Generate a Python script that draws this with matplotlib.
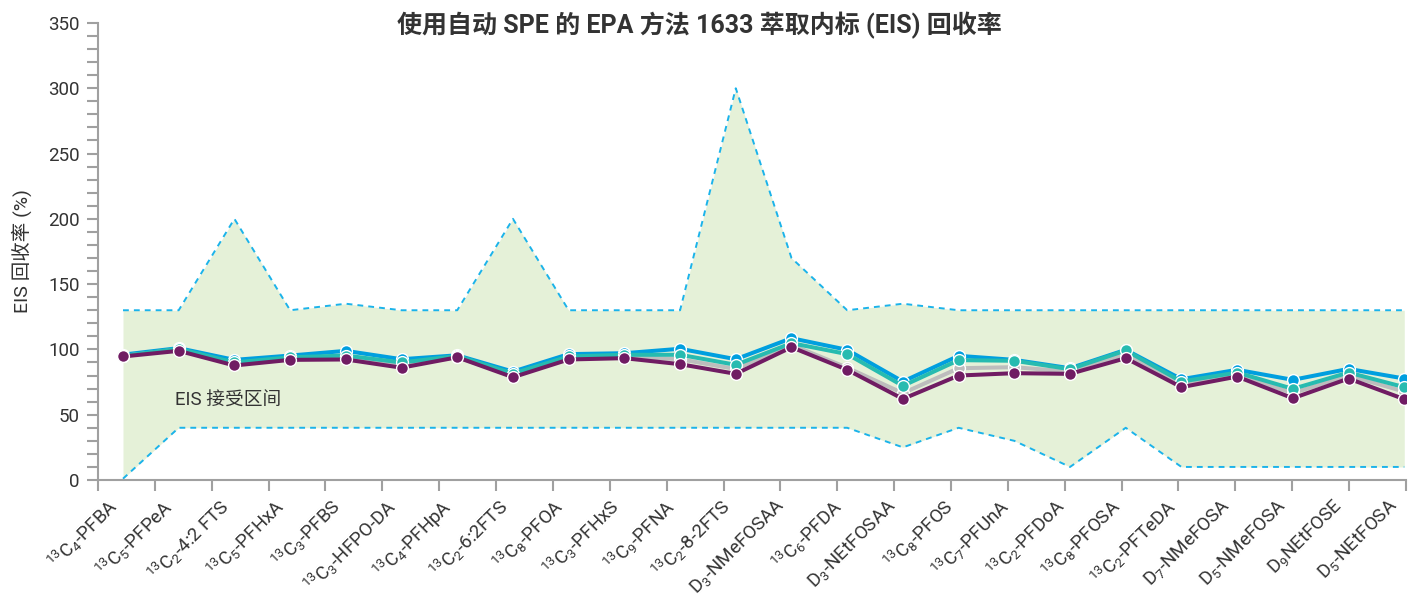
"""EPA 1633 EIS 回收率折线图 (matplotlib)."""
import numpy as np
import matplotlib
matplotlib.use("Agg")
import matplotlib.pyplot as plt
import matplotlib.transforms as mtransforms

plt.rcParams["font.family"] = ["Roboto", "Noto Sans CJK SC", "DejaVu Sans"]
plt.rcParams["mathtext.fontset"] = "custom"
plt.rcParams["mathtext.rm"] = "Roboto"
plt.rcParams["mathtext.it"] = "Roboto:italic"
plt.rcParams["mathtext.bf"] = "Roboto:bold"
plt.rcParams["axes.unicode_minus"] = False

# 化合物 (x 轴标签)
labels = [
    r"$\mathregular{^{13}C_4}$-PFBA", r"$\mathregular{^{13}C_5}$-PFPeA",
    r"$\mathregular{^{13}C_2}$-4:2 FTS", r"$\mathregular{^{13}C_5}$-PFHxA",
    r"$\mathregular{^{13}C_3}$-PFBS", r"$\mathregular{^{13}C_3}$-HFPO-DA",
    r"$\mathregular{^{13}C_4}$-PFHpA", r"$\mathregular{^{13}C_2}$-6:2FTS",
    r"$\mathregular{^{13}C_8}$-PFOA", r"$\mathregular{^{13}C_3}$-PFHxS",
    r"$\mathregular{^{13}C_9}$-PFNA", r"$\mathregular{^{13}C_2}$-8-2FTS",
    r"$\mathregular{D_3}$-NMeFOSAA", r"$\mathregular{^{13}C_6}$-PFDA",
    r"$\mathregular{D_3}$-NEtFOSAA", r"$\mathregular{^{13}C_8}$-PFOS",
    r"$\mathregular{^{13}C_7}$-PFUnA", r"$\mathregular{^{13}C_2}$-PFDoA",
    r"$\mathregular{^{13}C_8}$-PFOSA", r"$\mathregular{^{13}C_2}$-PFTeDA",
    r"$\mathregular{D_7}$-NMeFOSA", r"$\mathregular{D_5}$-NMeFOSA",
    r"$\mathregular{D_9}$NEtFOSE", r"$\mathregular{D_5}$-NEtFOSA",
]

# 接受区间上下限
upper = [130, 130, 200, 130, 135, 130, 130, 200, 130, 130, 130, 300,
         170, 130, 135, 130, 130, 130, 130, 130, 130, 130, 130, 130]
lower = [1, 40, 40, 40, 40, 40, 40, 40, 40, 40, 40, 40,
         40, 40, 25, 40, 30, 10, 40, 10, 10, 10, 10, 10]

# 四组样品回收率
s_blue = [96, 101, 92, 95.3, 98.9, 92.5, 95.5, 83, 96.4, 97.1, 100.5, 92.5,
          108.6, 99.7, 75.4, 95.1, 92, 85.6, 99.7, 77.2, 84.4, 76.7, 85.1, 77.7]
s_gray = [95, 100, 89, 93, 94, 88, 94, 80, 93.5, 94.5, 92.5, 85,
          103.5, 86, 66.5, 85.6, 86.4, 83, 96.4, 73.6, 80.5, 66.5, 80, 67.7]
s_teal = [95, 100.5, 90, 94, 95.3, 90, 95, 81.5, 94.6, 95.9, 95.9, 88.2,
          104.8, 96.4, 72.1, 91.8, 91.3, 84.9, 99.2, 75.4, 82.3, 69.8, 82.3, 71.1]
s_purple = [94.6, 98.9, 87.7, 92, 92.3, 86, 94, 78.7, 92.3, 93.3, 88.7, 81.3,
            101.7, 84.4, 62.1, 80, 81.8, 81.3, 93.3, 71.1, 79.2, 62.6, 77.7, 61.9]

COLOR_BLUE = "#009FDF"
COLOR_TEAL = "#27BBB0"
COLOR_GRAY = "#BDBDBD"
COLOR_PURPLE = "#701C63"
COLOR_FILL = "#E5F1D8"
COLOR_DASH = "#1BB3EA"
TEXT = "#333333"
AXIS = "#A0A0A0"

fig = plt.figure(figsize=(14.16, 6), dpi=100)
ax = fig.add_axes([0.0692, 0.2, 0.9237, 0.7617])

x = np.arange(len(labels))
ax.fill_between(x, lower, upper, color=COLOR_FILL, linewidth=0, zorder=1)
ax.plot(x, upper, color=COLOR_DASH, lw=1.4, ls=(0, (3, 2.6)), zorder=2)
ax.plot(x, lower, color=COLOR_DASH, lw=1.4, ls=(0, (3, 2.6)), zorder=2)

for ys, c, z in [(s_blue, COLOR_BLUE, 3), (s_gray, COLOR_GRAY, 4),
                 (s_teal, COLOR_TEAL, 5), (s_purple, COLOR_PURPLE, 6)]:
    ax.plot(x, ys, color=c, lw=2.9, marker="o", ms=8.5, mfc=c,
            mec="white", mew=1, zorder=z)

ax.text(0.93, 61, "EIS 接受区间", fontsize=13.5, color=TEXT, va="center", zorder=7)

xmin, xmax = -0.449, 23.03
ax.set_xlim(xmin, xmax)
ax.set_ylim(0, 350)

# y 轴
ax.set_yticks(np.arange(0, 351, 50))
ax.set_yticks(np.arange(0, 351, 10), minor=True)
ax.tick_params(axis="y", which="both", direction="out", length=8, width=1.5,
               color=AXIS, labelsize=13.5, labelcolor=TEXT, pad=5)

# x 轴: 刻度线在分界处, 标签对齐数据点
ax.set_xticks(x)
ax.set_xticklabels(labels, rotation=45, ha="right", va="top",
                   rotation_mode="anchor", fontsize=13.5, color=TEXT)
ax.set_xticks(np.linspace(xmin, xmax, len(labels)), minor=True)
ax.tick_params(axis="x", which="major", length=0, pad=11)
ax.tick_params(axis="x", which="minor", direction="out", length=8, width=1.5,
               color=AXIS)
shift = mtransforms.ScaledTranslation(-12 / 72, 0, fig.dpi_scale_trans)
for lab in ax.get_xticklabels():
    lab.set_transform(lab.get_transform() + shift)

for side in ["top", "right"]:
    ax.spines[side].set_visible(False)
for side in ["left", "bottom"]:
    ax.spines[side].set_color(AXIS)
    ax.spines[side].set_linewidth(1.5)

ax.set_ylabel("EIS 回收率 (%)", fontsize=14, color=TEXT, labelpad=12)
fig.text(0.494, 0.957, "使用自动 SPE 的 EPA 方法 1633 萃取内标 (EIS) 回收率",
         ha="center", va="center", fontsize=18, fontweight="bold", color=TEXT)

fig.savefig("out.png", dpi=100)
plt.close(fig)
